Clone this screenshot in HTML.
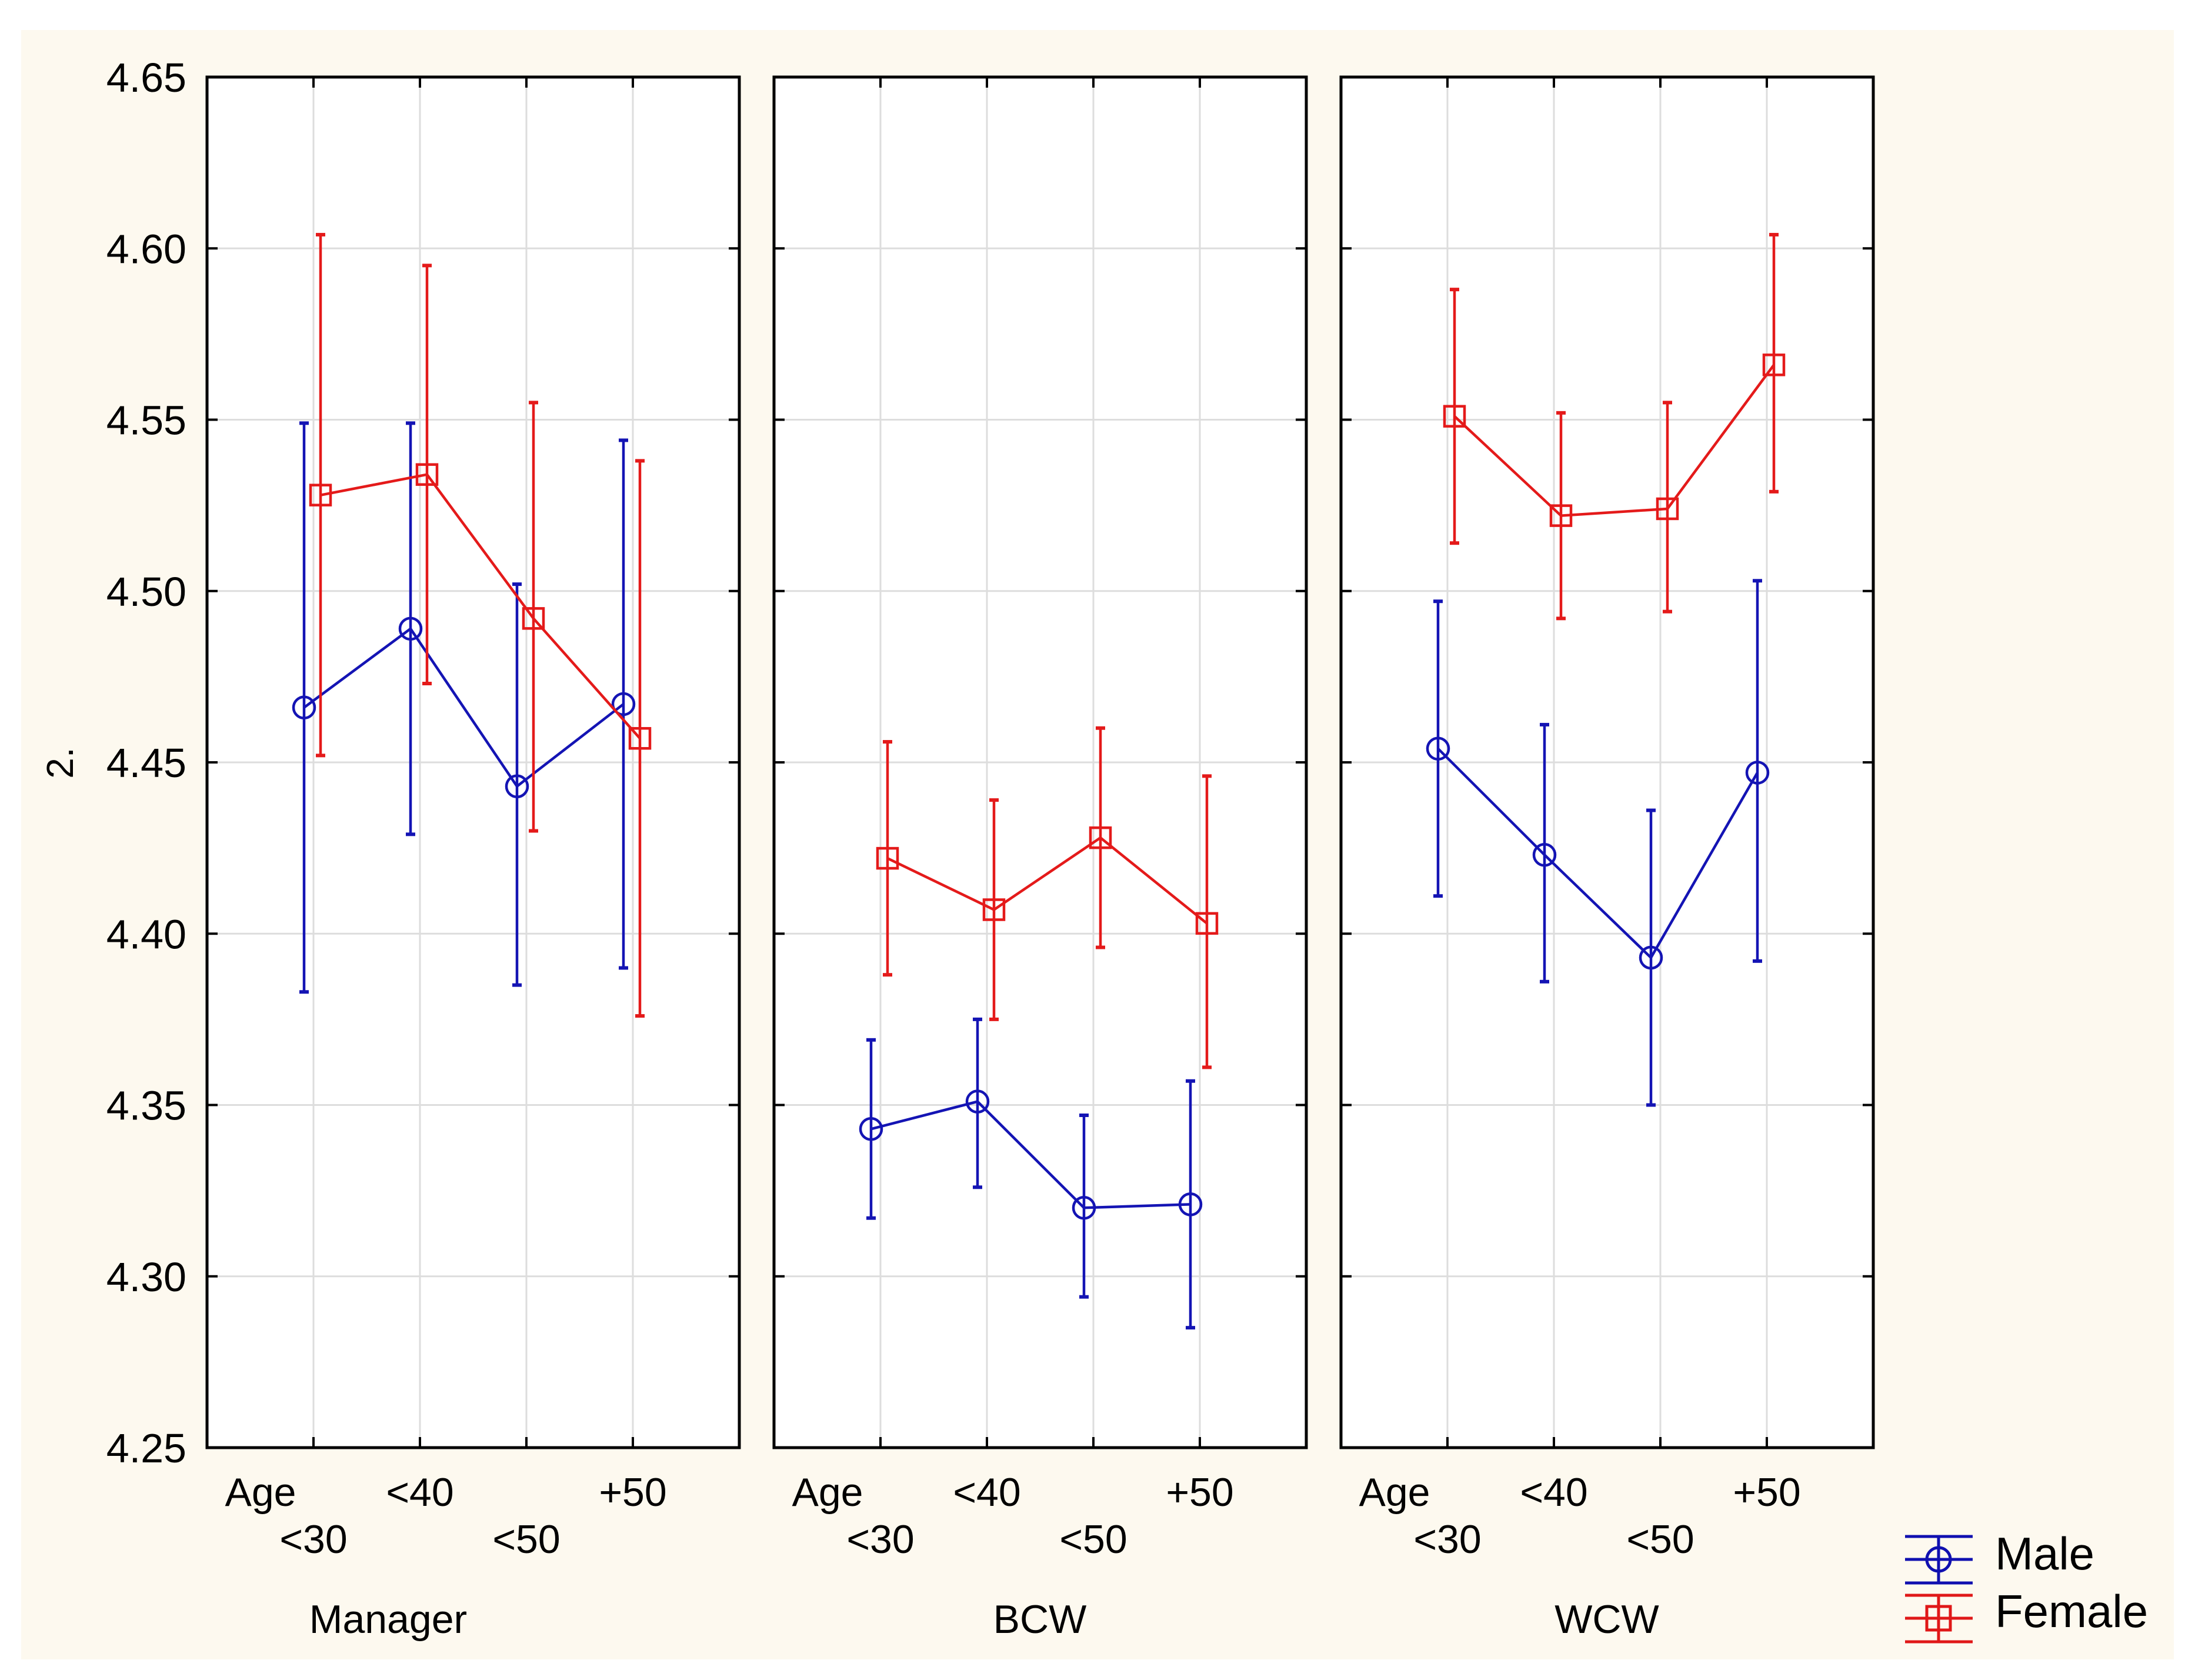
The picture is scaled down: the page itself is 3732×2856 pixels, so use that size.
<!DOCTYPE html>
<html><head><meta charset="utf-8"><style>
html,body{margin:0;padding:0;background:#fff;}
svg{display:block;font-family:"Liberation Sans",Arial,sans-serif;}
</style></head><body>
<svg id="chart" width="3732" height="2856" viewBox="0 0 3732 2856">
<rect x="36" y="51" width="3660" height="2770" fill="#fdf9ef"/>
<g id="plots"></g>
<text x="107" y="1297" font-size="64" text-anchor="middle" transform="rotate(-90 107 1297)" dominant-baseline="middle">2.</text>
<g>
 <g stroke="#1010b0" stroke-width="5" fill="none">
  <line x1="3239" y1="2612" x2="3354" y2="2612"/><line x1="3239" y1="2651" x2="3354" y2="2651"/><line x1="3239" y1="2691" x2="3354" y2="2691"/>
  <line x1="3296" y1="2612" x2="3296" y2="2691"/><circle cx="3296" cy="2651" r="20"/>
 </g>
 <text x="3392" y="2668" font-size="78">Male</text>
 <g stroke="#e01818" stroke-width="5" fill="none">
  <line x1="3239" y1="2712" x2="3354" y2="2712"/><line x1="3239" y1="2751" x2="3354" y2="2751"/><line x1="3239" y1="2791" x2="3354" y2="2791"/>
  <line x1="3296" y1="2712" x2="3296" y2="2791"/><rect x="3276" y="2731" width="40" height="40"/>
 </g>
 <text x="3392" y="2766" font-size="78">Female</text>
</g>
</svg>
<script>
const groups = ["Manager","BCW","WCW"];
const yTicks = [4.25,4.30,4.35,4.40,4.45,4.50,4.55,4.60,4.65];
const yTickLabels = ["4.25","4.30","4.35","4.40","4.45","4.50","4.55","4.60","4.65"];
const maleMean = [[4.466,4.489,4.443,4.467],[4.343,4.351,4.320,4.321],[4.454,4.423,4.393,4.447]];
const maleLow  = [[4.383,4.429,4.385,4.390],[4.317,4.326,4.294,4.285],[4.411,4.386,4.350,4.392]];
const maleHigh = [[4.549,4.549,4.502,4.544],[4.369,4.375,4.347,4.357],[4.497,4.461,4.436,4.503]];
const femMean = [[4.528,4.534,4.492,4.457],[4.422,4.407,4.428,4.403],[4.551,4.522,4.524,4.566]];
const femLow  = [[4.452,4.473,4.430,4.376],[4.388,4.375,4.396,4.361],[4.514,4.492,4.494,4.529]];
const femHigh = [[4.604,4.595,4.555,4.538],[4.456,4.439,4.460,4.446],[4.588,4.552,4.555,4.604]];

const NS="http://www.w3.org/2000/svg";
const root=document.getElementById('plots');
const panelLeft=[352,1316,2280], panelW=905, plotTop=131, plotBottom=2461;
function y(v){return plotBottom-(v-4.25)/(0.40)*(plotBottom-plotTop);}
function x(p,i){return panelLeft[p]+panelW*(i+1)/5;}
function mk(tag,attrs,parent){const e=document.createElementNS(NS,tag);for(const k in attrs)e.setAttribute(k,attrs[k]);(parent||root).appendChild(e);return e;}

yTicks.forEach((t,k)=>{
  const tx=mk('text',{x:317,y:y(t)+25,'font-size':70,'text-anchor':'end'});
  tx.textContent=yTickLabels[k];
  
  
});

groups.forEach((g,p)=>{
  const L=panelLeft[p],R=L+panelW;
  const pg=mk('g',{});
  
  
  const bg=mk('rect',{x:L,y:plotTop,width:panelW,height:plotBottom-plotTop,fill:'#fff'},pg);
  
  
  yTicks.forEach(t=>{
    if(t>4.25&&t<4.65){const gl=mk('line',{x1:L,x2:R,y1:y(t),y2:y(t),stroke:'#dddddd','stroke-width':3},pg);
    
    }
    mk('line',{x1:L,x2:L+18,y1:y(t),y2:y(t),stroke:'#000','stroke-width':4},pg);
    mk('line',{x1:R-18,x2:R,y1:y(t),y2:y(t),stroke:'#000','stroke-width':4},pg);
  });
  for(let i=0;i<4;i++){
    const gl=mk('line',{x1:x(p,i),x2:x(p,i),y1:plotTop,y2:plotBottom,stroke:'#dddddd','stroke-width':3},pg);
    
    
    mk('line',{x1:x(p,i),x2:x(p,i),y1:plotTop,y2:plotTop+18,stroke:'#000','stroke-width':4},pg);
    mk('line',{x1:x(p,i),x2:x(p,i),y1:plotBottom-18,y2:plotBottom,stroke:'#000','stroke-width':4},pg);
  }
  const fr=mk('rect',{x:L,y:plotTop,width:panelW,height:plotBottom-plotTop,fill:'none',stroke:'#000','stroke-width':5},pg);
  
  
  const labs=[["Age",0,2560],["<40",1,2560],["+50",3,2560],["<30",0,2640],["<50",2,2640]];
  labs.forEach(l=>{
    const cx = l[0]==="Age" ? x(p,0)-90 : x(p,l[1]);
    const t=mk('text',{x:cx,y:l[2],'font-size':68,'text-anchor':'middle'},pg);
    t.textContent=l[0];
    
    
  });
  const gt=mk('text',{x:[660,1768,2732][p],y:2776,'font-size':68,'text-anchor':'middle'},pg);
  gt.textContent=g;
  
  

  [[maleMean,maleLow,maleHigh,'#1414b4',-16,'male'],[femMean,femLow,femHigh,'#e41a1a',12,'female']].forEach(s=>{
    const [M,Lo,Hi,col,off,nm]=s;
    const sg=mk('g',{stroke:col,'stroke-width':4.5,fill:'none'},pg);
    
    
    const pts=M[p].map((v,i)=>(x(p,i)+off)+','+y(v)).join(' ');
    const pl=mk('polyline',{points:pts},sg);
    
    
    M[p].forEach((v,i)=>{
      const cx=x(p,i)+off;
      const eb=mk('g',{},sg);
      
      
      mk('line',{x1:cx,x2:cx,y1:y(Lo[p][i]),y2:y(Hi[p][i])},eb);
      mk('line',{x1:cx-8,x2:cx+8,y1:y(Lo[p][i]),y2:y(Lo[p][i]),'stroke-width':6},eb);
      mk('line',{x1:cx-8,x2:cx+8,y1:y(Hi[p][i]),y2:y(Hi[p][i]),'stroke-width':6},eb);
      let m;
      if(nm==='male') m=mk('circle',{cx:cx,cy:y(v),r:18},sg);
      else m=mk('rect',{x:cx-17,y:y(v)-17,width:34,height:34},sg);
      
      
    });
  });
});
</script>
</body></html>
